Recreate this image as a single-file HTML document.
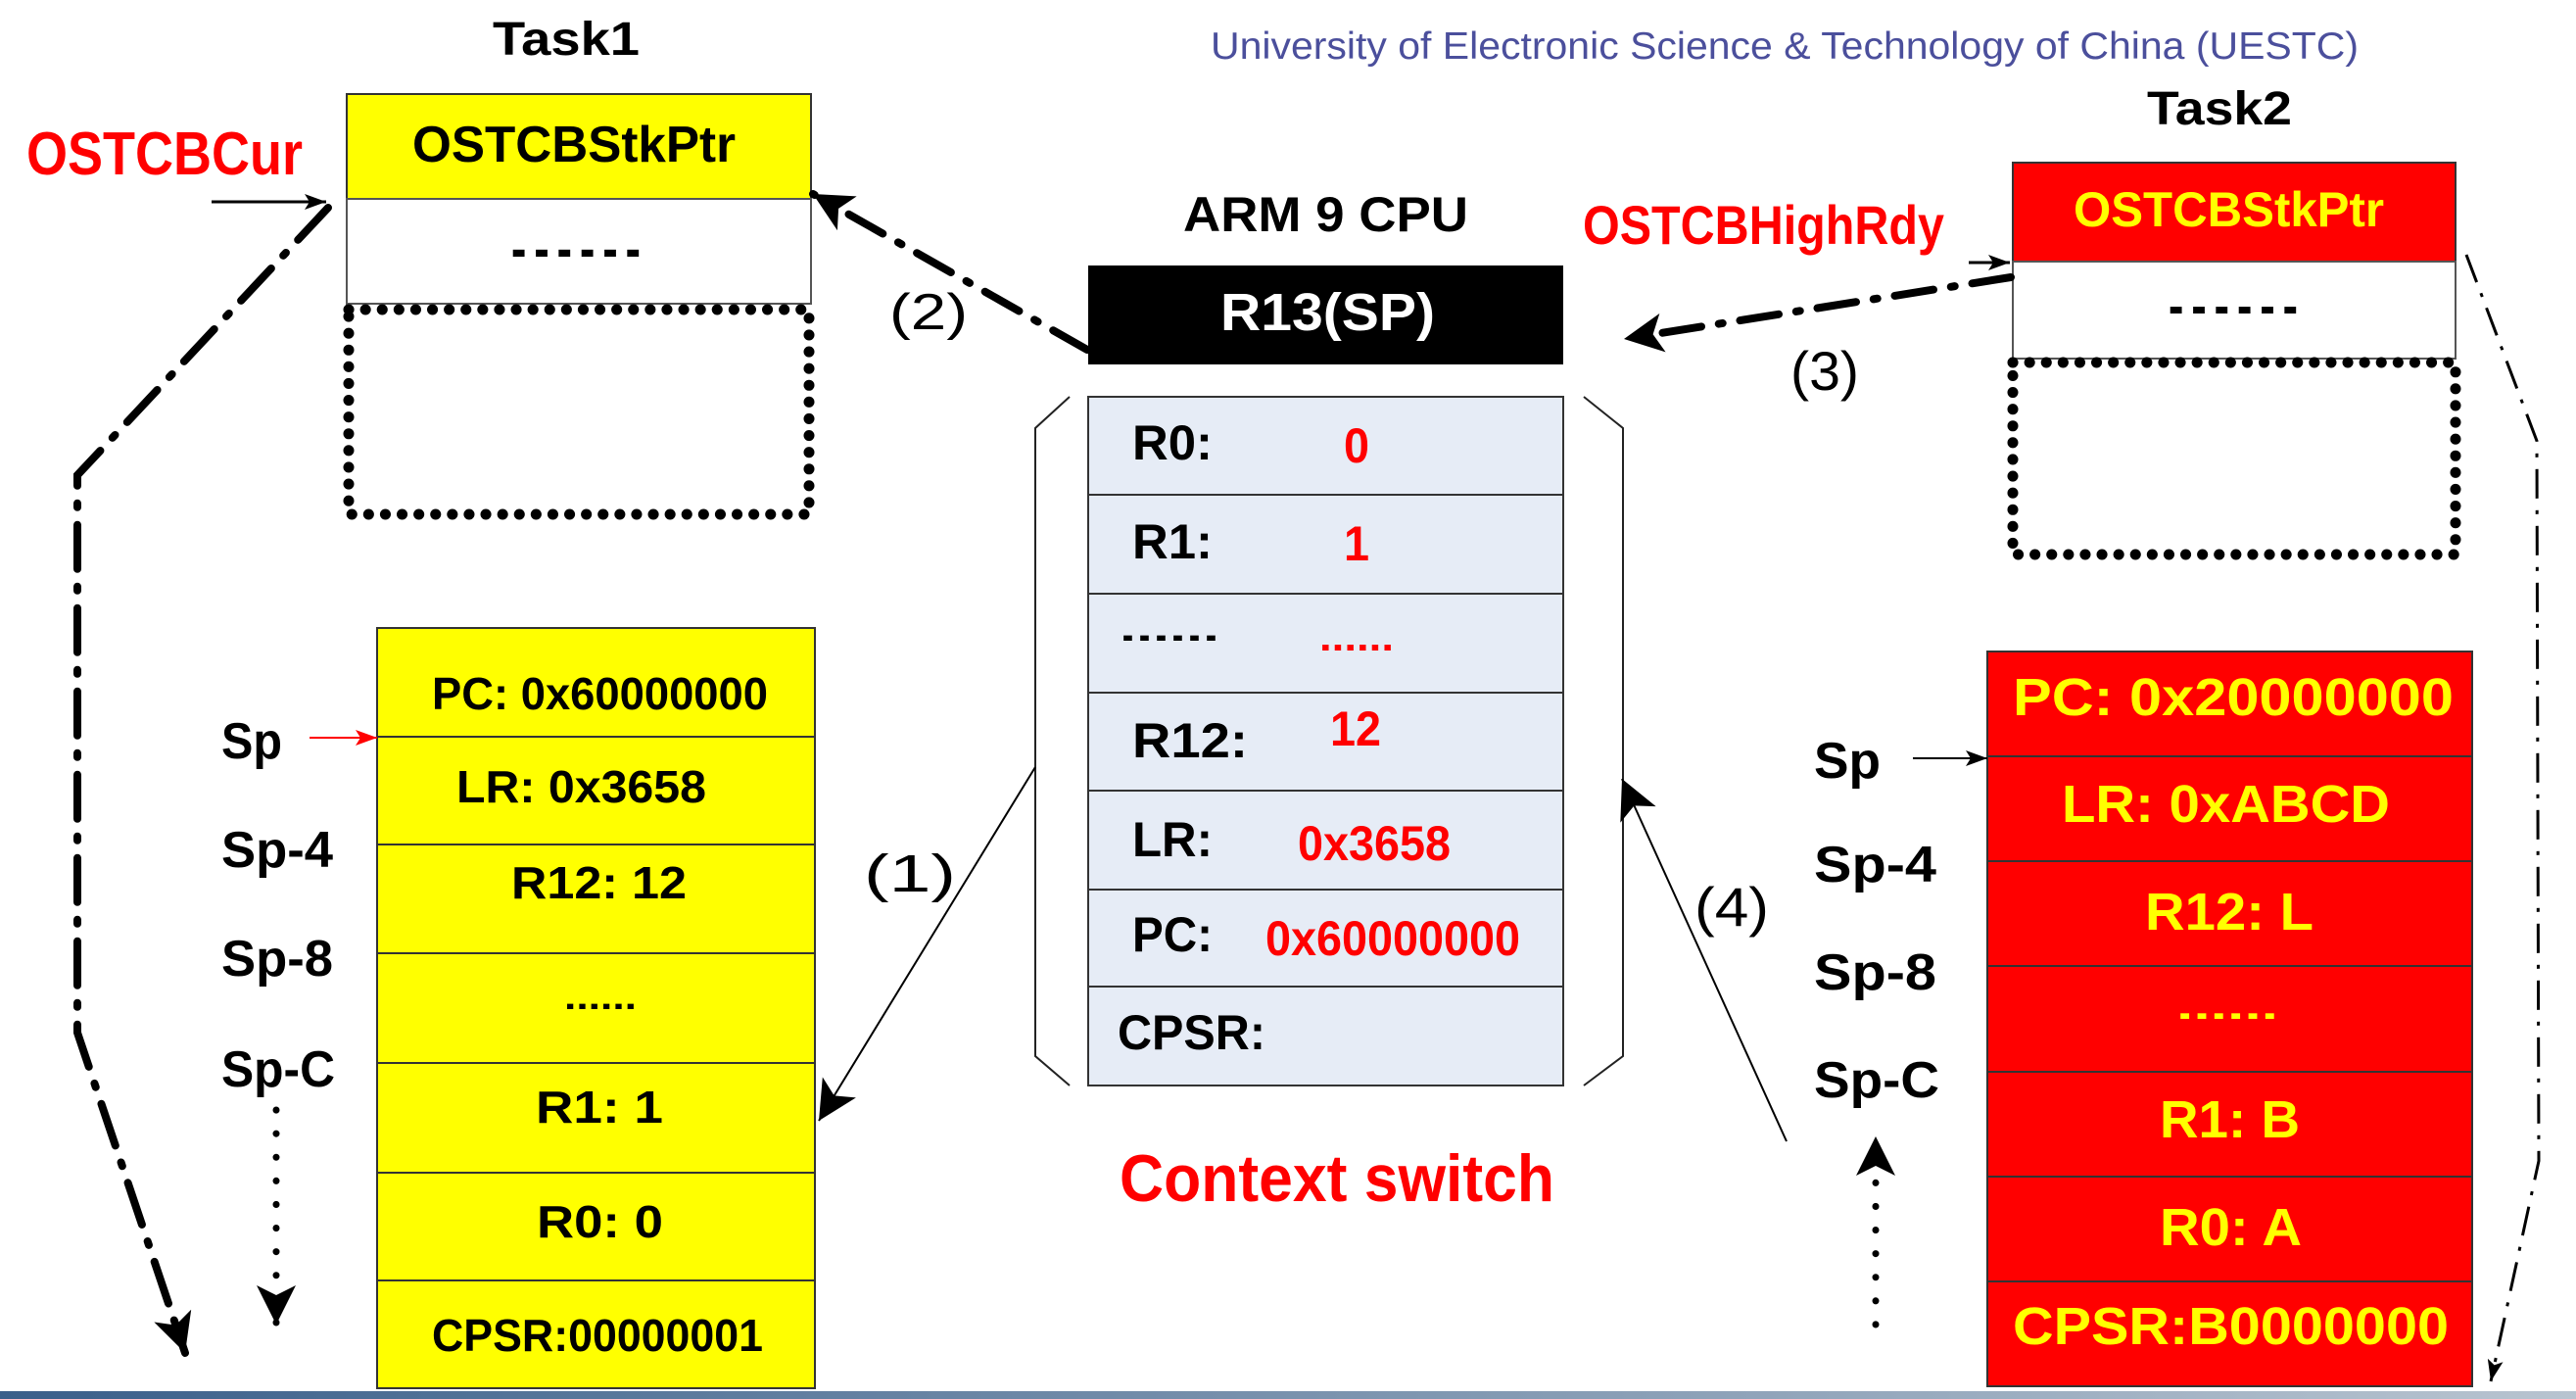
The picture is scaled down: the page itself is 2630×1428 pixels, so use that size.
<!DOCTYPE html>
<html><head><meta charset="utf-8"><style>
html,body{margin:0;padding:0;background:#fff;}
svg{display:block;}
text{font-family:"Liberation Sans",sans-serif;}
.b{font-weight:bold;}
</style></head><body>
<svg width="2630" height="1428" viewBox="0 0 2630 1428" xmlns="http://www.w3.org/2000/svg">
<defs>
<marker id="ah" markerUnits="userSpaceOnUse" markerWidth="44" markerHeight="40" refX="40" refY="20" orient="auto"><path d="M0,0 L40,20 L0,40 L10,20 Z" fill="#000"/></marker>
<marker id="as" markerUnits="userSpaceOnUse" markerWidth="24" markerHeight="20" refX="22" refY="10" orient="auto"><path d="M0,2 L22,10 L0,18 L5,10 Z" fill="#000"/></marker>
<marker id="ar" markerUnits="userSpaceOnUse" markerWidth="24" markerHeight="20" refX="22" refY="10" orient="auto"><path d="M0,2 L22,10 L0,18 L5,10 Z" fill="#f00"/></marker>
<linearGradient id="bar" x1="0" x2="1"><stop offset="0" stop-color="#3a5f8a"/><stop offset="1" stop-color="#b8c4d0"/></linearGradient>
</defs>

<!-- University -->
<text x="1236" y="60" font-size="39" fill="#4b4f9c" textLength="1172" lengthAdjust="spacingAndGlyphs">University of Electronic Science &amp; Technology of China (UESTC)</text>

<!-- Task1 -->
<text class="b" x="503" y="56" font-size="48" textLength="150" lengthAdjust="spacingAndGlyphs">Task1</text>
<rect x="354" y="96" width="474" height="107" fill="#ff0" stroke="#333" stroke-width="2"/>
<text class="b" x="421" y="165" font-size="52" textLength="330" lengthAdjust="spacingAndGlyphs">OSTCBStkPtr</text>
<rect x="354" y="203" width="474" height="107" fill="#fff" stroke="#555" stroke-width="2"/>
<text class="b" x="518" y="262" font-size="48" textLength="140" lengthAdjust="spacingAndGlyphs">......</text>
<rect x="356" y="316" width="470" height="209" fill="none" stroke="#000" stroke-width="11" stroke-linecap="round" stroke-dasharray="0.1 17"/>

<text class="b" x="27" y="178" font-size="62" fill="#f00" textLength="282" lengthAdjust="spacingAndGlyphs">OSTCBCur</text>
<line x1="216" y1="206" x2="333" y2="206" stroke="#000" stroke-width="3" marker-end="url(#as)"/>
<polyline points="335,212 79,485 79,1054 189,1381" fill="none" stroke="#000" stroke-width="8" stroke-linecap="round" stroke-dasharray="45 18 4 18" marker-end="url(#ah)"/>

<!-- (2) -->
<line x1="1110" y1="357" x2="830" y2="198" stroke="#000" stroke-width="8" stroke-linecap="round" stroke-dasharray="40 18 4 18" marker-end="url(#ah)"/>
<text x="908" y="336" font-size="52" textLength="80" lengthAdjust="spacingAndGlyphs">(2)</text>

<!-- CPU -->
<text class="b" x="1208" y="236" font-size="50" textLength="291" lengthAdjust="spacingAndGlyphs">ARM 9 CPU</text>
<rect x="1111" y="271" width="485" height="101" fill="#000"/>
<text class="b" x="1246" y="337" font-size="54" fill="#fff" textLength="219" lengthAdjust="spacingAndGlyphs">R13(SP)</text>

<g stroke="#333" stroke-width="2" fill="#e6ecf6">
<rect x="1111" y="405" width="485" height="100"/>
<rect x="1111" y="505" width="485" height="101"/>
<rect x="1111" y="606" width="485" height="101"/>
<rect x="1111" y="707" width="485" height="100"/>
<rect x="1111" y="807" width="485" height="101"/>
<rect x="1111" y="908" width="485" height="99"/>
<rect x="1111" y="1007" width="485" height="101"/>
</g>
<g class="b" font-size="50" font-weight="bold">
<text x="1156" y="469" textLength="82" lengthAdjust="spacingAndGlyphs">R0:</text>
<text x="1372" y="472" fill="#f00" textLength="26" lengthAdjust="spacingAndGlyphs">0</text>
<text x="1156" y="570" textLength="82" lengthAdjust="spacingAndGlyphs">R1:</text>
<text x="1372" y="572" fill="#f00" textLength="26" lengthAdjust="spacingAndGlyphs">1</text>
<text x="1143" y="654" textLength="102" lengthAdjust="spacingAndGlyphs" font-size="36">......</text>
<text x="1347" y="664" fill="#f00" textLength="76" lengthAdjust="spacingAndGlyphs" font-size="40">......</text>
<text x="1156" y="773" textLength="118" lengthAdjust="spacingAndGlyphs">R12:</text>
<text x="1358" y="761" fill="#f00" textLength="52" lengthAdjust="spacingAndGlyphs">12</text>
<text x="1156" y="874" textLength="82" lengthAdjust="spacingAndGlyphs">LR:</text>
<text x="1325" y="878" fill="#f00" textLength="156" lengthAdjust="spacingAndGlyphs">0x3658</text>
<text x="1156" y="971" textLength="82" lengthAdjust="spacingAndGlyphs">PC:</text>
<text x="1292" y="975" fill="#f00" textLength="260" lengthAdjust="spacingAndGlyphs">0x60000000</text>
<text x="1141" y="1071" textLength="151" lengthAdjust="spacingAndGlyphs">CPSR:</text>
</g>
<polyline points="1092,405 1057,437 1057,1078 1092,1108" fill="none" stroke="#222" stroke-width="2"/>
<polyline points="1617,405 1657,437 1657,1078 1617,1108" fill="none" stroke="#222" stroke-width="2"/>

<text class="b" x="1143" y="1226" font-size="68" fill="#f00" textLength="444" lengthAdjust="spacingAndGlyphs">Context switch</text>

<!-- (1) -->
<line x1="1057" y1="783" x2="836" y2="1144" stroke="#000" stroke-width="2" marker-end="url(#ah)"/>
<text x="882" y="910" font-size="54" font-family="Liberation Serif" textLength="94" lengthAdjust="spacingAndGlyphs">(1)</text>

<!-- Left stack -->
<g stroke="#333" stroke-width="2" fill="#ff0">
<rect x="385" y="641" width="447" height="111"/>
<rect x="385" y="752" width="447" height="110"/>
<rect x="385" y="862" width="447" height="111"/>
<rect x="385" y="973" width="447" height="112"/>
<rect x="385" y="1085" width="447" height="112"/>
<rect x="385" y="1197" width="447" height="110"/>
<rect x="385" y="1307" width="447" height="110"/>
</g>
<g class="b" font-size="46" font-weight="bold">
<text x="441" y="724" textLength="343" lengthAdjust="spacingAndGlyphs">PC: 0x60000000</text>
<text x="466" y="819" textLength="255" lengthAdjust="spacingAndGlyphs">LR:  0x3658</text>
<text x="522" y="917" textLength="179" lengthAdjust="spacingAndGlyphs">R12:  12</text>
<text x="576" y="1030" textLength="74" lengthAdjust="spacingAndGlyphs" font-size="36">......</text>
<text x="547" y="1146" textLength="130" lengthAdjust="spacingAndGlyphs">R1:  1</text>
<text x="548" y="1263" textLength="129" lengthAdjust="spacingAndGlyphs">R0:  0</text>
<text x="441" y="1379" textLength="338" lengthAdjust="spacingAndGlyphs">CPSR:00000001</text>
</g>
<g class="b" font-size="52" font-weight="bold">
<text x="226" y="774" textLength="62" lengthAdjust="spacingAndGlyphs">Sp</text>
<text x="226" y="885" textLength="114" lengthAdjust="spacingAndGlyphs">Sp-4</text>
<text x="226" y="996" textLength="114" lengthAdjust="spacingAndGlyphs">Sp-8</text>
<text x="226" y="1109" textLength="116" lengthAdjust="spacingAndGlyphs">Sp-C</text>
</g>
<line x1="316" y1="753" x2="385" y2="753" stroke="#f00" stroke-width="2" marker-end="url(#ar)"/>
<line x1="282" y1="1133" x2="282" y2="1352" stroke="#000" stroke-width="7" stroke-linecap="round" stroke-dasharray="0.1 24" marker-end="url(#ah)"/>

<!-- Task2 -->
<text class="b" x="2192" y="127" font-size="48" textLength="148" lengthAdjust="spacingAndGlyphs">Task2</text>
<text class="b" x="1616" y="249" font-size="56" fill="#f00" textLength="369" lengthAdjust="spacingAndGlyphs">OSTCBHighRdy</text>
<rect x="2055" y="166" width="452" height="101" fill="#f00" stroke="#333" stroke-width="2"/>
<text class="b" x="2117" y="231" font-size="50" fill="#ff0" textLength="317" lengthAdjust="spacingAndGlyphs">OSTCBStkPtr</text>
<rect x="2055" y="267" width="452" height="99" fill="#fff" stroke="#555" stroke-width="2"/>
<text class="b" x="2210" y="320" font-size="46" textLength="140" lengthAdjust="spacingAndGlyphs">......</text>
<rect x="2055" y="370" width="452" height="196" fill="none" stroke="#000" stroke-width="11" stroke-linecap="round" stroke-dasharray="0.1 17"/>
<line x1="2010" y1="268" x2="2052" y2="268" stroke="#000" stroke-width="3" marker-end="url(#as)"/>
<line x1="2053" y1="283" x2="1658" y2="346" stroke="#000" stroke-width="8" stroke-linecap="round" stroke-dasharray="40 18 4 18" marker-end="url(#ah)"/>
<text x="1828" y="398" font-size="56" textLength="70" lengthAdjust="spacingAndGlyphs">(3)</text>
<polyline points="2518,260 2590,450 2592,1185 2543,1410" fill="none" stroke="#000" stroke-width="3" stroke-dasharray="30 12 4 12" marker-end="url(#as)"/>

<!-- Right stack -->
<g stroke="#333" stroke-width="2" fill="#f00">
<rect x="2029" y="665" width="495" height="107"/>
<rect x="2029" y="772" width="495" height="107"/>
<rect x="2029" y="879" width="495" height="107"/>
<rect x="2029" y="986" width="495" height="108"/>
<rect x="2029" y="1094" width="495" height="107"/>
<rect x="2029" y="1201" width="495" height="107"/>
<rect x="2029" y="1308" width="495" height="107"/>
</g>
<g class="b" font-size="54" font-weight="bold" fill="#ff0">
<text x="2055" y="730" textLength="450" lengthAdjust="spacingAndGlyphs">PC: 0x20000000</text>
<text x="2105" y="839" textLength="335" lengthAdjust="spacingAndGlyphs">LR:  0xABCD</text>
<text x="2190" y="949" textLength="172" lengthAdjust="spacingAndGlyphs">R12: L</text>
<text x="2222" y="1040" textLength="104" lengthAdjust="spacingAndGlyphs" font-size="38">......</text>
<text x="2205" y="1161" textLength="143" lengthAdjust="spacingAndGlyphs">R1: B</text>
<text x="2205" y="1271" textLength="145" lengthAdjust="spacingAndGlyphs">R0: A</text>
<text x="2055" y="1372" textLength="445" lengthAdjust="spacingAndGlyphs">CPSR:B0000000</text>
</g>
<g class="b" font-size="52" font-weight="bold">
<text x="1852" y="794" textLength="68" lengthAdjust="spacingAndGlyphs">Sp</text>
<text x="1852" y="900" textLength="125" lengthAdjust="spacingAndGlyphs">Sp-4</text>
<text x="1852" y="1010" textLength="125" lengthAdjust="spacingAndGlyphs">Sp-8</text>
<text x="1852" y="1120" textLength="128" lengthAdjust="spacingAndGlyphs">Sp-C</text>
</g>
<line x1="1953" y1="774" x2="2029" y2="774" stroke="#000" stroke-width="2" marker-end="url(#as)"/>
<line x1="1915" y1="1352" x2="1915" y2="1160" stroke="#000" stroke-width="7" stroke-linecap="round" stroke-dasharray="0.1 24" marker-end="url(#ah)"/>
<line x1="1824" y1="1165" x2="1656" y2="795" stroke="#000" stroke-width="2" marker-end="url(#ah)"/>
<text x="1730" y="945" font-size="56" textLength="76" lengthAdjust="spacingAndGlyphs">(4)</text>

<rect x="0" y="1420" width="2630" height="8" fill="url(#bar)"/>
</svg>
</body></html>
